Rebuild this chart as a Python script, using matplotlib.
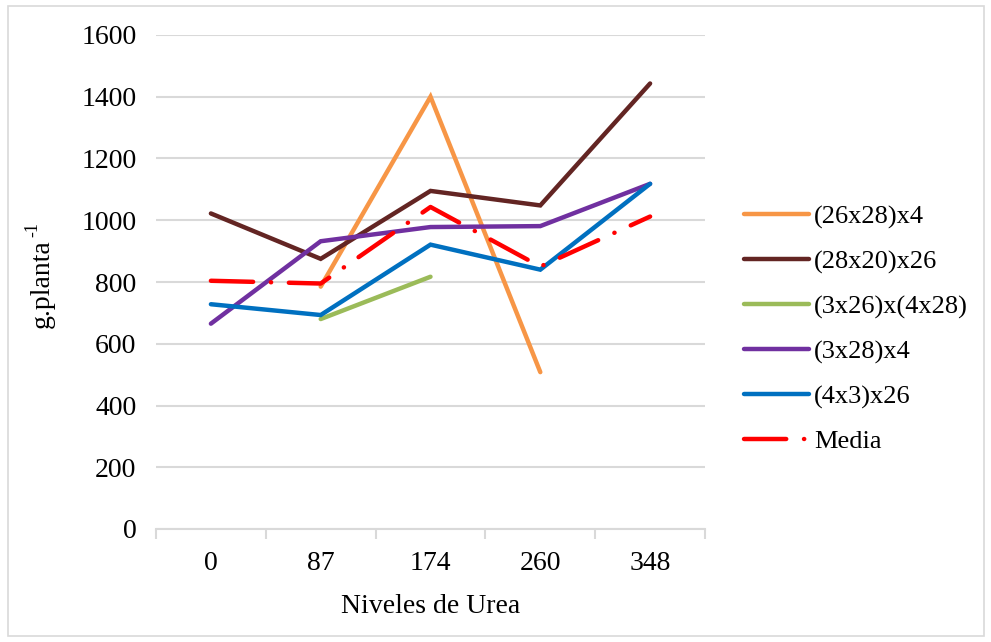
import numpy as np
import matplotlib
matplotlib.use("Agg")
import matplotlib.pyplot as plt
from matplotlib.patches import Rectangle

plt.rcParams['font.family'] = ['Liberation Serif', 'DejaVu Serif']

# Data
niveles = ["0", "87", "174", "260", "348"]
s_26x28_x4 = [np.nan, 785, 1400, 508, np.nan]
s_28x20_x26 = [1022, 875, 1095, 1048, 1443]
s_3x26_x_4x28 = [np.nan, 680, 817, np.nan, np.nan]
s_3x28_x4 = [665, 932, 978, 981, 1118]
s_4x3_x26 = [728, 693, 921, 840, 1118]
media = [804, 795, 1043, 850, 1012]

series_names = ["(26x28)x4", "(28x20)x26", "(3x26)x(4x28)", "(3x28)x4", "(4x3)x26"]
series_vals = [s_26x28_x4, s_28x20_x26, s_3x26_x_4x28, s_3x28_x4, s_4x3_x26]
series_colors = ["#F79646", "#632523", "#9BBB59", "#7030A0", "#0070C0"]

fig = plt.figure(figsize=(9.91, 6.42), dpi=100)
ax = fig.add_axes([156 / 991, 1 - 529 / 642, 549 / 991, 494 / 642])

x = np.arange(len(niveles))
lw = 3.2
for name, vals, col in zip(series_names, series_vals, series_colors):
    ax.plot(x, vals, color=col, lw=lw, label=name, solid_capstyle='round',
            solid_joinstyle='miter')
ax.plot(x, media, color="#FF0000", lw=lw, label="Media",
        dashes=(9.5, 4.0, 0.05, 4.0), dash_capstyle='round')

ax.set_ylim(0, 1600)
ax.set_xlim(-0.5, len(niveles) - 0.5)
ax.set_yticks(np.arange(0, 1601, 200))
ax.set_xticks(x)
ax.set_xticklabels(niveles)
ax.set_xticks(np.arange(-0.5, len(niveles), 1), minor=True)

grid_col = "#D9D9D9"
ax.yaxis.grid(True, color=grid_col, lw=1.5)
ax.set_axisbelow(True)
for sp in ["top", "right", "left"]:
    ax.spines[sp].set_visible(False)
ax.spines["bottom"].set_color(grid_col)
ax.spines["bottom"].set_linewidth(1.5)
ax.tick_params(axis='y', length=0, pad=14, labelsize=20)
ax.tick_params(axis='x', which='major', length=0, pad=16, labelsize=20)
ax.tick_params(axis='x', which='minor', length=7, width=1.5, color=grid_col)

ax.set_xlabel("Niveles de Urea", fontsize=20, labelpad=13)

# y-axis title with superscript exponent
fig.text(42 / 991, 1 - 284 / 642, "g.planta", rotation=90, fontsize=20,
         ha="center", va="center")
fig.text(33 / 991, 1 - 230 / 642, "-1", rotation=90, fontsize=13,
         ha="center", va="center")

leg = ax.legend(loc="upper left", bbox_to_anchor=(1.052, 0.678), frameon=False,
                fontsize=19, handlelength=2.45, handletextpad=0.2,
                labelspacing=0.8, borderaxespad=0)

# outer chart border
fig.patches.append(Rectangle((8 / 991, 6 / 642), 976 / 991, 630 / 642,
                             transform=fig.transFigure, fill=False,
                             edgecolor="#D9D9D9", lw=1.2))

fig.savefig("out.png", dpi=100)
